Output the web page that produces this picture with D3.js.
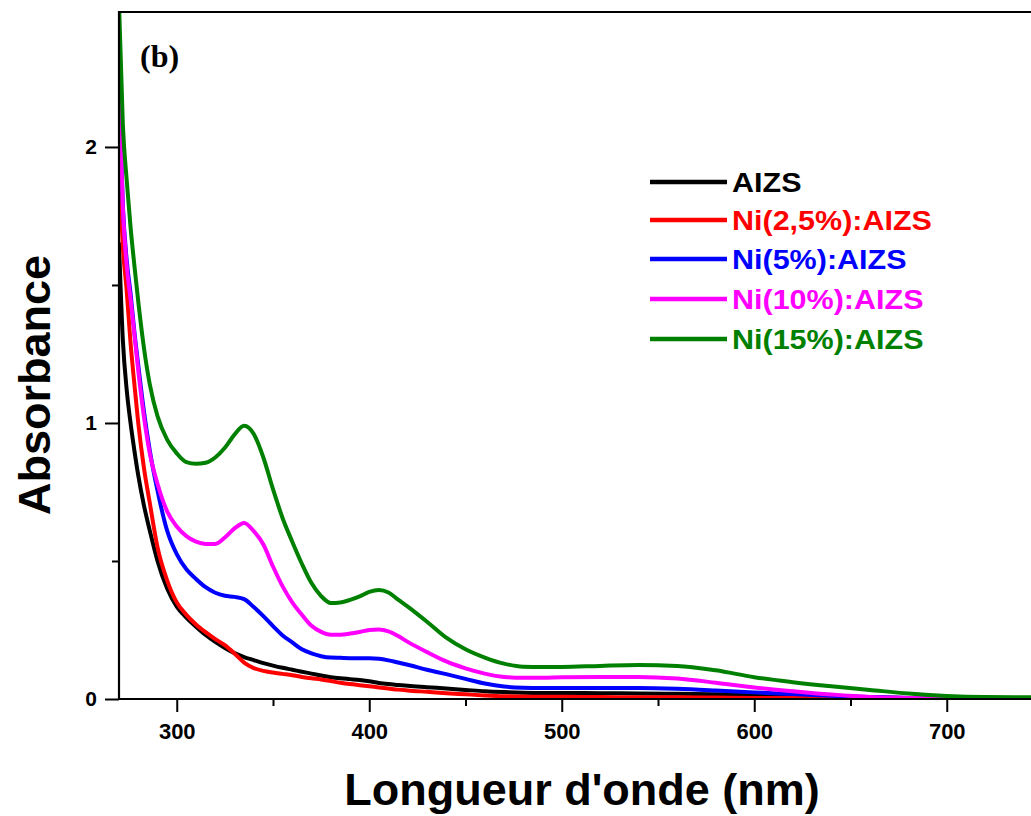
<!DOCTYPE html>
<html>
<head>
<meta charset="utf-8">
<script src="https://cdn.jsdelivr.net/npm/d3@7"></script>
<style>
  html, body { margin: 0; padding: 0; background: #fff; }
  svg { display: block; }
  text { font-family: "Liberation Sans", Arial, sans-serif; font-weight: bold; }
</style>
</head>
<body>
<svg id="chart" width="1031" height="816"></svg>
<script>
// ---- data ----
const wavelengths = [270,272,274,276,278,280,283,286,290,295,300,305,310,315,320,325,330,335,340,345,350,355,360,365,370,375,380,385,390,395,400,405,410,415,420,430,440,450,460,470,480,490,500,520,540,560,580,600,620,640,660,680,700,720,745];

const seriesNames = ["AIZS", "Ni(2,5%):AIZS", "Ni(5%):AIZS", "Ni(10%):AIZS", "Ni(15%):AIZS"];
const seriesColors = ["#000000", "#ff0000", "#0000ff", "#ff00ff", "#008000"];

const absAIZS = [1.65,1.30,1.12,1.00,0.90,0.81,0.70,0.61,0.50,0.40,0.335,0.295,0.262,0.232,0.207,0.185,0.166,0.152,0.141,0.130,0.121,0.113,0.106,0.099,0.092,0.085,0.079,0.075,0.072,0.069,0.064,0.058,0.054,0.051,0.048,0.043,0.038,0.033,0.028,0.025,0.023,0.022,0.022,0.021,0.020,0.019,0.017,0.014,0.011,0.008,0.006,0.004,0.003,0.002,0.002];
const absNi25 = [1.96,1.64,1.48,1.29,1.14,1.00,0.835,0.71,0.55,0.43,0.35,0.305,0.270,0.242,0.217,0.195,0.165,0.132,0.112,0.102,0.096,0.091,0.086,0.080,0.075,0.071,0.065,0.059,0.054,0.050,0.046,0.042,0.038,0.034,0.031,0.026,0.021,0.017,0.013,0.010,0.009,0.008,0.008,0.007,0.006,0.006,0.005,0.004,0.004,0.003,0.003,0.002,0.002,0.002,0.002];
const absNi5 = [2.23,1.79,1.59,1.47,1.33,1.21,1.04,0.90,0.755,0.61,0.525,0.47,0.435,0.405,0.385,0.374,0.370,0.362,0.333,0.300,0.264,0.230,0.205,0.180,0.165,0.155,0.150,0.149,0.148,0.148,0.148,0.146,0.140,0.132,0.124,0.106,0.090,0.073,0.056,0.045,0.041,0.040,0.040,0.040,0.040,0.037,0.031,0.024,0.018,0.012,0.007,0.004,0.003,0.002,0.002];
const absNi10 = [2.21,1.78,1.57,1.45,1.32,1.19,1.02,0.89,0.78,0.68,0.625,0.59,0.57,0.562,0.562,0.585,0.618,0.638,0.608,0.560,0.480,0.408,0.350,0.305,0.265,0.243,0.233,0.233,0.237,0.243,0.250,0.252,0.245,0.228,0.207,0.170,0.136,0.111,0.092,0.080,0.077,0.077,0.079,0.080,0.080,0.074,0.059,0.042,0.028,0.016,0.007,0.004,0.003,0.003,0.003];
const absNi15 = [2.52,2.08,1.88,1.71,1.57,1.44,1.27,1.14,1.025,0.94,0.89,0.858,0.852,0.856,0.875,0.91,0.958,0.99,0.96,0.875,0.76,0.655,0.57,0.49,0.42,0.373,0.348,0.350,0.359,0.372,0.388,0.395,0.386,0.360,0.335,0.280,0.222,0.180,0.150,0.128,0.117,0.116,0.116,0.120,0.123,0.120,0.104,0.079,0.061,0.046,0.033,0.020,0.011,0.007,0.006];

const seriesValues = [absAIZS, absNi25, absNi5, absNi10, absNi15];

const xTickValues = [300, 400, 500, 600, 700];
const xMinorTicks = [350, 450, 550, 650];
const yTickValues = [0, 1, 2];
const yMinorTicks = [0.5, 1.5];

const xTitle = "Longueur d'onde (nm)";
const yTitle = "Absorbance";
const panelLabel = "(b)";

// ---- layout ----
const padL = 119, padT = 12, baseY = 699, edgeR = 1031;
const svg = d3.select("#chart");

const x = d3.scaleLinear().domain([270, 745]).range([padL, padL + 475 * 1.925]);
const y = d3.scaleLinear().domain([0, 2.489]).range([baseY, padT]);

svg.append("defs").append("clipPath").attr("id", "plotclip")
  .append("rect").attr("x", padL).attr("y", padT).attr("width", edgeR - padL).attr("height", baseY - padT);

// curves
const plot = svg.append("g").attr("clip-path", "url(#plotclip)");
const line = d3.line()
  .x((d, i) => x(wavelengths[i]))
  .y(d => y(d))
  .curve(d3.curveMonotoneX);

seriesValues.forEach((vals, k) => {
  plot.append("path")
    .datum(vals)
    .attr("d", line)
    .attr("fill", "none")
    .attr("stroke", seriesColors[k])
    .attr("stroke-width", 4)
    .attr("stroke-linejoin", "round")
    .attr("stroke-linecap", "round");
});

// x axis
const xAxis = d3.axisBottom(x).tickValues(xTickValues).tickSize(13).tickPadding(11).tickFormat(d3.format("d"));
const gx = svg.append("g").attr("transform", `translate(0,${baseY})`).call(xAxis);
gx.select(".domain").remove();
gx.selectAll(".tick line").attr("stroke", "#000").attr("stroke-width", 2);
gx.selectAll(".tick text").attr("font-size", 22).attr("fill", "#000")
  .attr("font-family", "'Liberation Sans', Arial, sans-serif").attr("font-weight", "bold");
const xMinorAxis = d3.axisBottom(x).tickValues(xMinorTicks).tickSize(7).tickFormat("");
const gxm = svg.append("g").attr("transform", `translate(0,${baseY})`).call(xMinorAxis);
gxm.select(".domain").remove();
gxm.selectAll(".tick line").attr("stroke", "#000").attr("stroke-width", 2);

// y axis
const yAxis = d3.axisLeft(y).tickValues(yTickValues).tickSize(14).tickPadding(8).tickFormat(d3.format("d"));
const gy = svg.append("g").attr("transform", `translate(${padL},0)`).call(yAxis);
gy.select(".domain").remove();
gy.selectAll(".tick line").attr("stroke", "#000").attr("stroke-width", 2);
gy.selectAll(".tick text").attr("font-size", 21).attr("fill", "#000")
  .attr("font-family", "'Liberation Sans', Arial, sans-serif").attr("font-weight", "bold");
const yMinorAxis = d3.axisLeft(y).tickValues(yMinorTicks).tickSize(7).tickFormat("");
const gym = svg.append("g").attr("transform", `translate(${padL},0)`).call(yMinorAxis);
gym.select(".domain").remove();
gym.selectAll(".tick line").attr("stroke", "#000").attr("stroke-width", 2);

// frame lines
svg.append("line").attr("x1", padL).attr("x2", edgeR).attr("y1", baseY).attr("y2", baseY)
  .attr("stroke", "#000").attr("stroke-width", 2.2);
svg.append("line").attr("x1", padL).attr("x2", padL).attr("y1", padT - 1).attr("y2", baseY + 1)
  .attr("stroke", "#000").attr("stroke-width", 2.2);
svg.append("line").attr("x1", padL - 1).attr("x2", edgeR).attr("y1", padT).attr("y2", padT)
  .attr("stroke", "#000").attr("stroke-width", 2.2);

// titles
svg.append("text").attr("x", 582).attr("y", 805).attr("text-anchor", "middle")
  .attr("font-size", 45).attr("fill", "#000").text(xTitle);
svg.append("text").attr("transform", "translate(50,385) rotate(-90)").attr("text-anchor", "middle")
  .attr("font-size", 45).attr("fill", "#000").text(yTitle);

// panel label
svg.append("text").attr("x", 140).attr("y", 67)
  .style("font-family", "'Liberation Serif', 'Times New Roman', serif")
  .attr("font-size", 32).attr("fill", "#000").text(panelLabel);

// legend
const legendRows = [182, 220, 259, 299, 339];
const lg = svg.append("g");
seriesNames.forEach((name, k) => {
  const yy = legendRows[k];
  lg.append("line").attr("x1", 650).attr("x2", 727).attr("y1", yy).attr("y2", yy)
    .attr("stroke", seriesColors[k]).attr("stroke-width", 4.5);
  lg.append("text").attr("transform", `translate(732,${yy}) scale(1.13,1)`)
    .attr("dy", "0.36em").attr("font-size", 27).attr("fill", seriesColors[k]).text(name);
});
</script>
</body>
</html>
